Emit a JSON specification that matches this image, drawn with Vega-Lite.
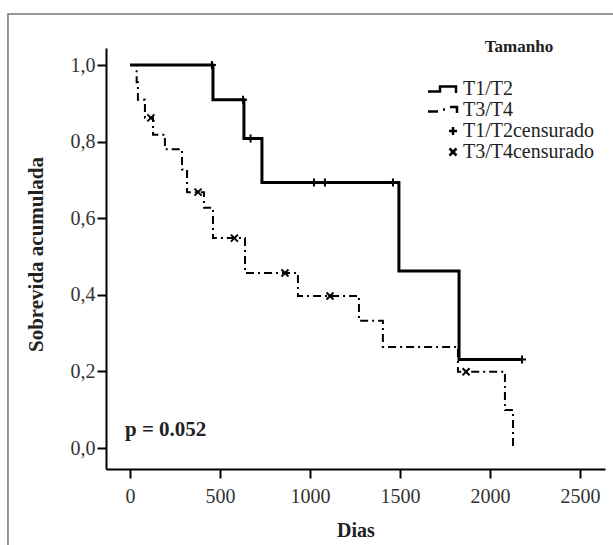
{
  "$schema": "https://vega.github.io/schema/vega-lite/v6.json",
  "usermeta": {"embedOptions": {"actions": false}},
  "width": 499,
  "height": 421,
  "autosize": {"type": "none"},
  "padding": {"left": 106, "top": 48, "right": 8, "bottom": 76},
  "background": "white",
  "config": {"view": {"stroke": null}, "font": "Liberation Serif"},
  "datasets": {
    "curvas": [
      {"grupo": "T1/T2", "dias": 0, "sobrevida": 1.0},
      {"grupo": "T1/T2", "dias": 461, "sobrevida": 0.909},
      {"grupo": "T1/T2", "dias": 633, "sobrevida": 0.808},
      {"grupo": "T1/T2", "dias": 733, "sobrevida": 0.693},
      {"grupo": "T1/T2", "dias": 1494, "sobrevida": 0.462},
      {"grupo": "T1/T2", "dias": 1828, "sobrevida": 0.231},
      {"grupo": "T1/T2", "dias": 2178, "sobrevida": 0.231},
      {"grupo": "T3/T4", "dias": 0, "sobrevida": 1.0},
      {"grupo": "T3/T4", "dias": 37, "sobrevida": 0.955},
      {"grupo": "T3/T4", "dias": 44, "sobrevida": 0.909},
      {"grupo": "T3/T4", "dias": 83, "sobrevida": 0.862},
      {"grupo": "T3/T4", "dias": 128, "sobrevida": 0.818},
      {"grupo": "T3/T4", "dias": 194, "sobrevida": 0.78},
      {"grupo": "T3/T4", "dias": 289, "sobrevida": 0.727},
      {"grupo": "T3/T4", "dias": 317, "sobrevida": 0.668},
      {"grupo": "T3/T4", "dias": 411, "sobrevida": 0.627},
      {"grupo": "T3/T4", "dias": 461, "sobrevida": 0.548},
      {"grupo": "T3/T4", "dias": 639, "sobrevida": 0.457},
      {"grupo": "T3/T4", "dias": 933, "sobrevida": 0.397},
      {"grupo": "T3/T4", "dias": 1272, "sobrevida": 0.332},
      {"grupo": "T3/T4", "dias": 1405, "sobrevida": 0.264},
      {"grupo": "T3/T4", "dias": 1822, "sobrevida": 0.199},
      {"grupo": "T3/T4", "dias": 2083, "sobrevida": 0.099},
      {"grupo": "T3/T4", "dias": 2128, "sobrevida": 0.0}
    ],
    "censuras": [
      {"legenda": "T1/T2censurado", "dias": 455, "sobrevida": 1.0},
      {"legenda": "T1/T2censurado", "dias": 628, "sobrevida": 0.909},
      {"legenda": "T1/T2censurado", "dias": 670, "sobrevida": 0.808},
      {"legenda": "T1/T2censurado", "dias": 1022, "sobrevida": 0.693},
      {"legenda": "T1/T2censurado", "dias": 1083, "sobrevida": 0.693},
      {"legenda": "T1/T2censurado", "dias": 1461, "sobrevida": 0.693},
      {"legenda": "T1/T2censurado", "dias": 2178, "sobrevida": 0.231},
      {"legenda": "T3/T4censurado", "dias": 116, "sobrevida": 0.862},
      {"legenda": "T3/T4censurado", "dias": 378, "sobrevida": 0.668},
      {"legenda": "T3/T4censurado", "dias": 580, "sobrevida": 0.548},
      {"legenda": "T3/T4censurado", "dias": 861, "sobrevida": 0.457},
      {"legenda": "T3/T4censurado", "dias": 1111, "sobrevida": 0.397},
      {"legenda": "T3/T4censurado", "dias": 1867, "sobrevida": 0.199}
    ]
  },
  "layer": [
    {
      "data": {"values": [{"moldura": "frame"}]},
      "mark": {"type": "rect", "filled": false, "stroke": "#777777", "strokeWidth": 1.5, "clip": false},
      "encoding": {
        "x": {"datum": -678, "type": "quantitative"},
        "x2": {"datum": 2700},
        "y": {"datum": 1.133, "type": "quantitative"},
        "y2": {"datum": -0.3}
      }
    },
    {
      "data": {"name": "curvas"},
      "transform": [{"filter": "datum.grupo == 'T3/T4'"}],
      "mark": {"type": "line", "interpolate": "step-after", "color": "black", "strokeWidth": 2, "strokeDash": [8, 4, 2, 4]},
      "encoding": {
        "x": {
          "field": "dias", "type": "quantitative",
          "scale": {"domain": [-133.3, 2638.9], "nice": false, "zero": false},
          "axis": {
            "values": [0, 500, 1000, 1500, 2000, 2500],
            "format": "d",
            "title": "Dias", "grid": false,
            "domainColor": "black", "domainWidth": 2,
            "tickColor": "black", "tickWidth": 2, "tickSize": 9,
            "labelPadding": 8, "labelFont": "Liberation Serif", "labelFontSize": 20, "labelColor": "#333333",
            "labelFlush": false, "labelOverlap": false,
            "titleFont": "Liberation Serif", "titleFontSize": 20, "titleFontWeight": "bold", "titleColor": "#222222",
            "titleY": 61, "titleBaseline": "middle"
          }
        },
        "y": {
          "field": "sobrevida", "type": "quantitative",
          "scale": {"domain": [-0.0548, 1.0444], "nice": false, "zero": false},
          "axis": {
            "values": [0, 0.2, 0.4, 0.6, 0.8, 1.0],
            "labelExpr": "replace(format(datum.value, '.1f'), '.', ',')",
            "title": "Sobrevida  acumulada", "grid": false,
            "domainColor": "black", "domainWidth": 2,
            "tickColor": "black", "tickWidth": 2, "tickSize": 9,
            "labelPadding": 2, "labelFont": "Liberation Serif", "labelFontSize": 20, "labelColor": "#333333",
            "labelFlush": false, "labelOverlap": false,
            "titleFont": "Liberation Serif", "titleFontSize": 21, "titleFontWeight": "bold", "titleColor": "#222222",
            "titleX": -70, "titleY": 206, "titleAngle": -90, "titleAlign": "center", "titleBaseline": "middle"
          }
        }
      }
    },
    {
      "data": {"name": "curvas"},
      "transform": [{"filter": "datum.grupo == 'T1/T2'"}],
      "mark": {"type": "line", "interpolate": "step-after", "color": "black", "strokeWidth": 3},
      "encoding": {
        "x": {"field": "dias", "type": "quantitative"},
        "y": {"field": "sobrevida", "type": "quantitative"}
      }
    },
    {
      "data": {"name": "censuras"},
      "mark": {"type": "point", "filled": false, "stroke": "black", "strokeWidth": 2, "size": 100, "opacity": 1},
      "encoding": {
        "x": {"field": "dias", "type": "quantitative"},
        "y": {"field": "sobrevida", "type": "quantitative"},
        "shape": {
          "field": "legenda", "type": "nominal",
          "scale": {
            "domain": ["T1/T2", "T3/T4", "T1/T2censurado", "T3/T4censurado"],
            "range": [
              "M-5,0.5L-2.6,0.5L-2.6,-0.5L0.6,-0.5L0.6,0.8",
              "M-5,0.3L-3,0.3M-2,-0.1L-1.6,-0.1M-0.6,-0.6L0.8,-0.6L0.8,0.6",
              "M-0.8,0L0.8,0M0,-0.8L0,0.8",
              "M-0.7,-0.7L0.7,0.7M-0.7,0.7L0.7,-0.7"
            ]
          },
          "legend": {
            "title": "Tamanho", "orient": "none", "legendX": 337, "legendY": -9, "padding": 0,
            "symbolSize": 100, "symbolStrokeWidth": 2.5, "symbolStrokeColor": "black",
            "labelFont": "Liberation Serif", "labelFontSize": 20, "labelColor": "#222222", "labelOffset": 0,
            "rowPadding": 1,
            "titleFont": "Liberation Serif", "titleFontSize": 17, "titleFontWeight": "bold", "titleColor": "#222222",
            "titlePadding": 23, "titleAnchor": "middle"
          }
        }
      }
    },
    {
      "data": {"values": [{"rotulo": "p = 0.052"}]},
      "mark": {"type": "text", "align": "left", "baseline": "middle", "font": "Liberation Serif", "fontSize": 21, "fontWeight": "bold", "color": "#222222"},
      "encoding": {
        "x": {"datum": -28, "type": "quantitative"},
        "y": {"datum": 0.047, "type": "quantitative"},
        "text": {"field": "rotulo", "type": "nominal"}
      }
    }
  ]
}
